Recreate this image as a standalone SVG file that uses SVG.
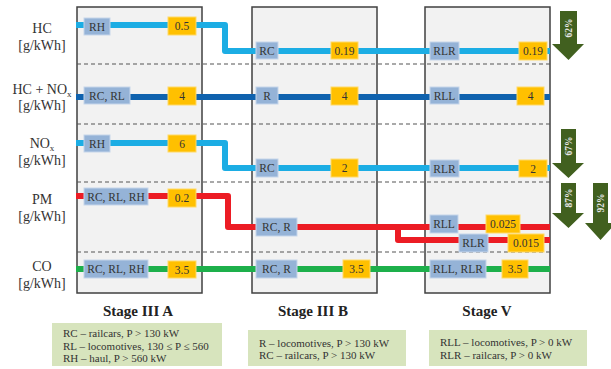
<svg xmlns="http://www.w3.org/2000/svg" width="611" height="369" viewBox="0 0 611 369">
<style>
.stage{fill:#f2f2f2;stroke:#404040;stroke-width:1.5}
.dash{stroke:#555;stroke-width:1.2;stroke-dasharray:4 3;fill:none}
.ln{fill:none;stroke-width:6;stroke-linejoin:round}
.hc{stroke:#1cade4}
.hcn{stroke:#0f62ae}
.pm{stroke:#ec1c24}
.co{stroke:#1db04b}
.lb{fill:#95b3d7;stroke:#c5d5ea;stroke-width:1}
.vb{fill:#ffc000;stroke:#ffd966;stroke-width:1}
.bt{font-family:"Liberation Serif",serif;font-size:11.5px;fill:#333;text-anchor:middle;dominant-baseline:central}
.axis{font-family:"Liberation Serif",serif;font-size:14px;fill:#333;text-anchor:middle}
.st{font-family:"Liberation Serif",serif;font-size:15px;font-weight:bold;fill:#222;text-anchor:middle}
.leg{fill:#d7e4bd}
.lt{font-family:"Liberation Serif",serif;font-size:11px;fill:#333}
.arr{fill:#41601f}
.at{font-family:"Liberation Serif",serif;font-size:9.5px;font-weight:bold;fill:#e6e6e6;text-anchor:middle;dominant-baseline:central}
</style>

<g id="axis-labels">
<text class="axis" x="42" y="33">HC</text>
<text class="axis" x="42" y="50">[g/kWh]</text>
<text class="axis" x="42" y="94">HC + NO<tspan font-size="9" dy="3">x</tspan></text>
<text class="axis" x="42" y="110">[g/kWh]</text>
<text class="axis" x="42" y="148">NO<tspan font-size="9" dy="3">x</tspan></text>
<text class="axis" x="42" y="165">[g/kWh]</text>
<text class="axis" x="42" y="204">PM</text>
<text class="axis" x="42" y="221">[g/kWh]</text>
<text class="axis" x="42" y="271">CO</text>
<text class="axis" x="42" y="288">[g/kWh]</text>
</g>

<g id="stage-boxes">
<rect id="stage-IIIA" class="stage" x="77" y="7" width="125" height="286"/>
<rect id="stage-IIIB" class="stage" x="252" y="7" width="125" height="286"/>
<rect id="stage-V" class="stage" x="425" y="7" width="125" height="286"/>
</g>

<g id="separators">
<line class="dash" x1="77" y1="64" x2="550" y2="64"/>
<line class="dash" x1="77" y1="124" x2="550" y2="124"/>
<line class="dash" x1="77" y1="182" x2="550" y2="182"/>
<line class="dash" x1="77" y1="252" x2="550" y2="252"/>
</g>

<g id="connectors">
<path class="ln hc" d="M76,25 H225 V51 H550"/>
<path class="ln hcn" d="M76,97 H550"/>
<path class="ln hc" d="M76,143 H225 V168 H550"/>
<path class="ln pm" d="M76,196 H228 V227 H550"/>
<path class="ln pm" d="M398,227 V240 H550"/>
<path class="ln co" d="M76,269 H550"/>
</g>

<g id="stage-IIIA-nodes">
<g id="a-hc-rh"><rect class="lb" x="84" y="18" width="26" height="17"/><text class="bt" x="97" y="26.5">RH</text></g>
<g id="a-hc-val"><rect class="vb" x="168" y="17" width="28" height="18"/><text class="bt" x="182" y="26">0.5</text></g>
<g id="a-hcn-rcrl"><rect class="lb" x="84" y="87" width="46" height="17"/><text class="bt" x="107" y="95.5">RC, RL</text></g>
<g id="a-hcn-val"><rect class="vb" x="168" y="87" width="28" height="18"/><text class="bt" x="182" y="96">4</text></g>
<g id="a-nox-rh"><rect class="lb" x="84" y="135" width="26" height="17"/><text class="bt" x="97" y="143.5">RH</text></g>
<g id="a-nox-val"><rect class="vb" x="168" y="135" width="28" height="17"/><text class="bt" x="182" y="143.5">6</text></g>
<g id="a-pm-lbl"><rect class="lb" x="84" y="188" width="64" height="17"/><text class="bt" x="116" y="196.5">RC, RL, RH</text></g>
<g id="a-pm-val"><rect class="vb" x="168" y="189" width="28" height="18"/><text class="bt" x="182" y="198">0.2</text></g>
<g id="a-co-lbl"><rect class="lb" x="84" y="260" width="64" height="18"/><text class="bt" x="116" y="269">RC, RL, RH</text></g>
<g id="a-co-val"><rect class="vb" x="168" y="261" width="28" height="17"/><text class="bt" x="182" y="269.5">3.5</text></g>
</g>

<g id="stage-IIIB-nodes">
<g id="b-hc-rc"><rect class="lb" x="256" y="42" width="22" height="17"/><text class="bt" x="267" y="50.5">RC</text></g>
<g id="b-hc-val"><rect class="vb" x="331" y="42" width="27" height="17"/><text class="bt" x="344.5" y="50.5">0.19</text></g>
<g id="b-hcn-r"><rect class="lb" x="256" y="87" width="22" height="17"/><text class="bt" x="267" y="95.5">R</text></g>
<g id="b-hcn-val"><rect class="vb" x="331" y="87" width="27" height="18"/><text class="bt" x="344.5" y="96">4</text></g>
<g id="b-nox-rc"><rect class="lb" x="256" y="159" width="22" height="18"/><text class="bt" x="267" y="168">RC</text></g>
<g id="b-nox-val"><rect class="vb" x="331" y="159" width="27" height="18"/><text class="bt" x="344.5" y="168">2</text></g>
<g id="b-pm-lbl"><rect class="lb" x="256" y="218" width="41" height="18"/><text class="bt" x="276.5" y="227">RC, R</text></g>
<g id="b-co-lbl"><rect class="lb" x="256" y="260" width="41" height="18"/><text class="bt" x="276.5" y="269">RC, R</text></g>
<g id="b-co-val"><rect class="vb" x="343" y="260" width="27" height="18"/><text class="bt" x="356.5" y="269">3.5</text></g>
</g>

<g id="stage-V-nodes">
<g id="v-hc-rlr"><rect class="lb" x="430" y="42" width="29" height="18"/><text class="bt" x="444.5" y="51">RLR</text></g>
<g id="v-hc-val"><rect class="vb" x="519" y="42" width="28" height="18"/><text class="bt" x="533" y="51">0.19</text></g>
<g id="v-hcn-rll"><rect class="lb" x="430" y="87" width="29" height="17"/><text class="bt" x="444.5" y="95.5">RLL</text></g>
<g id="v-hcn-val"><rect class="vb" x="517" y="87" width="27" height="18"/><text class="bt" x="530.5" y="96">4</text></g>
<g id="v-nox-rlr"><rect class="lb" x="430" y="160" width="29" height="17"/><text class="bt" x="444.5" y="168.5">RLR</text></g>
<g id="v-nox-val"><rect class="vb" x="519" y="160" width="28" height="17"/><text class="bt" x="533" y="168.5">2</text></g>
<g id="v-pm-rll"><rect class="lb" x="430" y="215" width="28" height="18"/><text class="bt" x="444" y="224">RLL</text></g>
<g id="v-pm-rll-val"><rect class="vb" x="486" y="215" width="34" height="18"/><text class="bt" x="503" y="224">0.025</text></g>
<g id="v-pm-rlr"><rect class="lb" x="459" y="234" width="29" height="18"/><text class="bt" x="473.5" y="243">RLR</text></g>
<g id="v-pm-rlr-val"><rect class="vb" x="508" y="234" width="36" height="18"/><text class="bt" x="526" y="243">0.015</text></g>
<g id="v-co-lbl"><rect class="lb" x="430" y="260" width="56" height="18"/><text class="bt" x="458" y="269">RLL, RLR</text></g>
<g id="v-co-val"><rect class="vb" x="502" y="260" width="26" height="18"/><text class="bt" x="515" y="269">3.5</text></g>
</g>

<g id="stage-titles">
<text class="st" x="138" y="316">Stage III A</text>
<text class="st" x="313" y="316">Stage III B</text>
<text class="st" x="487" y="316">Stage V</text>
</g>

<g id="legend-IIIA">
<rect class="leg" x="52" y="323" width="170" height="43"/>
<text class="lt" x="63" y="337">RC – railcars, P &gt; 130 kW</text>
<text class="lt" x="63" y="349.5">RL – locomotives, 130 ≤ P ≤ 560</text>
<text class="lt" x="63" y="362">RH – haul, P &gt; 560 kW</text>
</g>
<g id="legend-IIIB">
<rect class="leg" x="248" y="330" width="158" height="36"/>
<text class="lt" x="259" y="346.5">R – locomotives, P &gt; 130 kW</text>
<text class="lt" x="259" y="359">RC – railcars, P &gt; 130 kW</text>
</g>
<g id="legend-V">
<rect class="leg" x="429" y="330" width="158" height="36"/>
<text class="lt" x="440" y="346">RLL – locomotives, P &gt; 0 kW</text>
<text class="lt" x="440" y="358.5">RLR – railcars, P &gt; 0 kW</text>
</g>

<g id="reduction-arrows">
<g id="arrow-62"><polygon class="arr" points="560,11 577,11 577,44 584,44 568.5,60 552,44 560,44"/><text class="at" transform="translate(568.5,28) rotate(-90)">62%</text></g>
<g id="arrow-67"><polygon class="arr" points="561,129 576,129 576,163 584,163 568.5,178 552,163 561,163"/><text class="at" transform="translate(568.5,146) rotate(-90)">67%</text></g>
<g id="arrow-87"><polygon class="arr" points="561,183 576,183 576,213 584,213 568.5,228 552,213 561,213"/><text class="at" transform="translate(568.5,198) rotate(-90)">87%</text></g>
<g id="arrow-92"><polygon class="arr" points="593,183 608,183 608,223 616,223 600.5,240 585,223 593,223"/><text class="at" transform="translate(600.5,203) rotate(-90)">92%</text></g>
</g>
</svg>
